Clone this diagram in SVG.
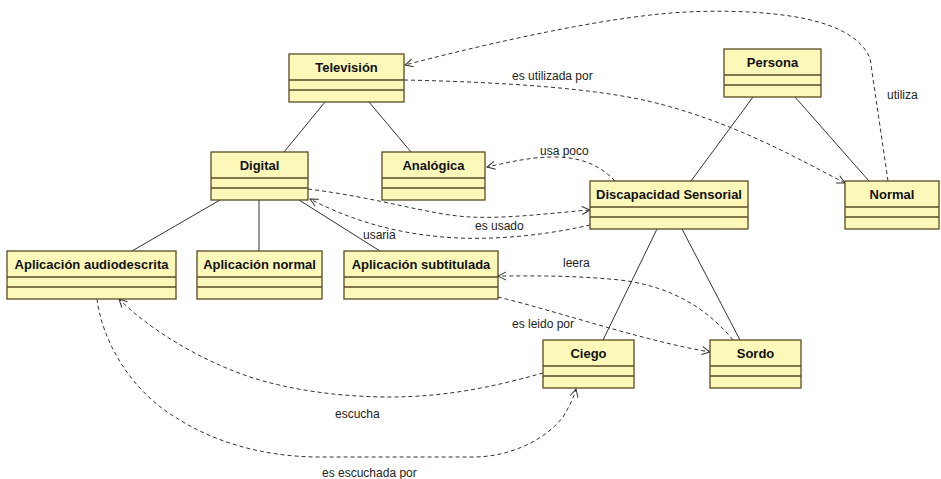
<svg xmlns="http://www.w3.org/2000/svg" width="941" height="479" viewBox="0 0 941 479">
<style>
.box{fill:#FCF8BA;stroke:#5a4a23;stroke-width:1.3}
.sep{stroke:#5a4a23;stroke-width:1.3}
.t{font-family:"Liberation Sans",Arial,sans-serif;font-weight:bold;font-size:13px;fill:#111;text-anchor:middle}
.l{font-family:"Liberation Sans",Arial,sans-serif;font-size:12px;fill:#222}
.solid{fill:none;stroke:#333;stroke-width:1}
.dash{fill:none;stroke:#333;stroke-width:1;stroke-dasharray:4,3;marker-end:url(#arr)}
.dashn{fill:none;stroke:#333;stroke-width:1;stroke-dasharray:4,3}
</style>
<defs>
<marker id="arr" markerUnits="userSpaceOnUse" markerWidth="12" markerHeight="12" refX="9" refY="5" orient="auto" viewBox="0 0 12 10">
<path d="M1,1 L9,5 L1,9" fill="none" stroke="#333" stroke-width="1"/>
</marker>
</defs>
<rect width="941" height="479" fill="#fff"/>
<g id="connectors">
<line class="solid" x1="325" y1="102" x2="284" y2="152"/>
<line class="solid" x1="369" y1="102" x2="411" y2="152"/>
<line class="solid" x1="753" y1="97" x2="691" y2="181"/>
<line class="solid" x1="795" y1="97" x2="869" y2="181"/>
<line class="solid" x1="220" y1="200" x2="132" y2="251"/>
<line class="solid" x1="259" y1="200" x2="259" y2="251"/>
<line class="solid" x1="299" y1="200" x2="380" y2="251"/>
<line class="solid" x1="657" y1="229" x2="603" y2="340"/>
<line class="solid" x1="682" y1="229" x2="740" y2="340"/>
<path class="dash" d="M888,181 L870,58 C860,35 830,22 790,16 C750,10 700,10 660,14 C580,22 470,48 405,65"/>
<path class="dash" d="M404,80 C500,82 600,88 660,104 C740,125 800,160 845,183"/>
<path class="dash" d="M615,181 C600,165 580,157 555,157 C530,157 510,162 487,167"/>
<path class="dash" d="M308,189 C380,198 430,215 470,217 C510,219 560,212 590,210"/>
<path class="dash" d="M590,225 C560,232 510,240 460,238 C410,236 360,225 310,199"/>
<path class="dash" d="M733,340 C700,300 660,285 620,280 C570,275 530,276 498,276"/>
<path class="dash" d="M498,297 C560,312 640,340 710,352"/>
<path class="dash" d="M543,373 C500,385 450,397 390,397 C340,397 290,390 250,377 C200,360 150,330 119,299"/>
<path class="dash" d="M97,299 C102,340 130,390 175,417 C210,440 260,457 320,457 L473,457 C510,457 545,440 563,417 C570,405 574,397 576,389"/>
<text class="l" x="887" y="99">utiliza</text>
<text class="l" x="512" y="80">es utilizada por</text>
<text class="l" x="540" y="155">usa poco</text>
<text class="l" x="475" y="230">es usado</text>
<text class="l" x="363" y="239">usaria</text>
<text class="l" x="563" y="267">leera</text>
<text class="l" x="512" y="328">es leido por</text>
<text class="l" x="335" y="418">escucha</text>
<text class="l" x="322" y="477">es escuchada por</text>
</g>
<g id="television">
<rect class="box" x="289" y="54" width="115" height="48"/>
<line class="sep" x1="289" y1="80" x2="404" y2="80"/><line class="sep" x1="289" y1="90" x2="404" y2="90"/>
<text class="t" x="346.5" y="72">Televisión</text>
</g>
<g id="persona">
<rect class="box" x="724" y="49" width="97" height="48"/>
<line class="sep" x1="724" y1="75" x2="821" y2="75"/><line class="sep" x1="724" y1="85" x2="821" y2="85"/>
<text class="t" x="772.5" y="67">Persona</text>
</g>
<g id="digital">
<rect class="box" x="211" y="152" width="97" height="48"/>
<line class="sep" x1="211" y1="178" x2="308" y2="178"/><line class="sep" x1="211" y1="188" x2="308" y2="188"/>
<text class="t" x="259.5" y="170">Digital</text>
</g>
<g id="analogica">
<rect class="box" x="382" y="152" width="103" height="48"/>
<line class="sep" x1="382" y1="178" x2="485" y2="178"/><line class="sep" x1="382" y1="188" x2="485" y2="188"/>
<text class="t" x="433.5" y="170">Analógica</text>
</g>
<g id="discapacidad">
<rect class="box" x="590" y="181" width="158" height="48"/>
<line class="sep" x1="590" y1="207" x2="748" y2="207"/><line class="sep" x1="590" y1="217" x2="748" y2="217"/>
<text class="t" x="669" y="199">Discapacidad Sensorial</text>
</g>
<g id="normal">
<rect class="box" x="845" y="181" width="94" height="48"/>
<line class="sep" x1="845" y1="207" x2="939" y2="207"/><line class="sep" x1="845" y1="217" x2="939" y2="217"/>
<text class="t" x="892" y="199">Normal</text>
</g>
<g id="app-audiodescrita">
<rect class="box" x="7" y="251" width="169" height="48"/>
<line class="sep" x1="7" y1="277" x2="176" y2="277"/><line class="sep" x1="7" y1="287" x2="176" y2="287"/>
<text class="t" x="91.5" y="269">Aplicación audiodescrita</text>
</g>
<g id="app-normal">
<rect class="box" x="197" y="251" width="125" height="48"/>
<line class="sep" x1="197" y1="277" x2="322" y2="277"/><line class="sep" x1="197" y1="287" x2="322" y2="287"/>
<text class="t" x="259.5" y="269">Aplicación normal</text>
</g>
<g id="app-subtitulada">
<rect class="box" x="344" y="251" width="154" height="48"/>
<line class="sep" x1="344" y1="277" x2="498" y2="277"/><line class="sep" x1="344" y1="287" x2="498" y2="287"/>
<text class="t" x="421" y="269">Aplicación subtitulada</text>
</g>
<g id="ciego">
<rect class="box" x="543" y="340" width="91" height="48"/>
<line class="sep" x1="543" y1="366" x2="634" y2="366"/><line class="sep" x1="543" y1="376" x2="634" y2="376"/>
<text class="t" x="588.5" y="358">Ciego</text>
</g>
<g id="sordo">
<rect class="box" x="710" y="340" width="91" height="48"/>
<line class="sep" x1="710" y1="366" x2="801" y2="366"/><line class="sep" x1="710" y1="376" x2="801" y2="376"/>
<text class="t" x="755.5" y="358">Sordo</text>
</g>
</svg>
